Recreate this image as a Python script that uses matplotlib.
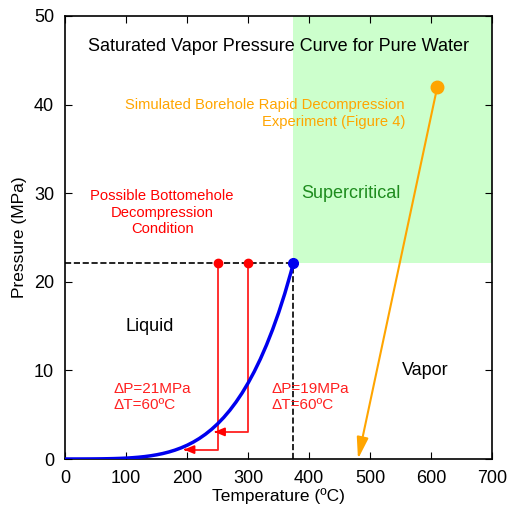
import matplotlib.pyplot as plt
from matplotlib.patches import Rectangle

plt.rcParams['font.family'] = ['Liberation Sans', 'DejaVu Sans']

# saturation curve of pure water (steam table values)
temps = [0, 10, 20, 30, 40, 50, 60, 70, 80, 90, 100, 110, 120, 130, 140, 150, 160, 170, 180, 190,
         200, 210, 220, 230, 240, 250, 260, 270, 280, 290, 300, 310, 320, 330, 340, 350, 360, 370, 373.95]
pressures = [0.000611, 0.001228, 0.002339, 0.004247, 0.007384, 0.012351, 0.019946, 0.031201, 0.047414,
             0.070182, 0.10142, 0.14338, 0.19867, 0.27028, 0.36153, 0.47616, 0.61823, 0.79219, 1.0028,
             1.2552, 1.5549, 1.9077, 2.3196, 2.7971, 3.3469, 3.9762, 4.6923, 5.5035, 6.4166, 7.441,
             8.5879, 9.8651, 11.284, 12.858, 14.601, 16.529, 18.666, 21.044, 22.064]

crit_t, crit_p = 373.95, 22.064

# decompression paths: start T, end T, end P
path_start_t = [250, 300]
path_end_t = [190, 240]
path_end_p = [1.06, 3.06]

# borehole experiment
exp_start = (610, 42)
exp_end = (480, 0)

fig = plt.figure(figsize=(5.09, 5.14), dpi=100)
ax = fig.add_axes([0.128, 0.107, 0.839, 0.862])

ax.add_patch(Rectangle((crit_t, crit_p), 700 - crit_t, 50 - crit_p, facecolor='#ccffcc', edgecolor='none', zorder=0))

ax.plot([0, crit_t], [crit_p, crit_p], 'k--', lw=1.2)
ax.plot([crit_t, crit_t], [0, crit_p], 'k--', lw=1.2)

ax.plot(temps, pressures, color='#0000ee', lw=2.5, zorder=3)
ax.plot(crit_t, crit_p, 'o', color='#0000ee', ms=7, zorder=4)

for t0, t1, p1 in zip(path_start_t, path_end_t, path_end_p):
    ax.plot([t0, t0, t1 + 8], [crit_p, p1, p1], color='#ff2020', lw=1.3, zorder=2)
    ax.annotate('', xy=(t1, p1), xytext=(t1 + 12, p1),
                arrowprops=dict(arrowstyle='-|>,head_length=0.6,head_width=0.25', color='#ff0000', lw=1.3), zorder=5)
    ax.plot(t0, crit_p, 'o', color='#ff0000', ms=6, zorder=4)

ax.annotate('', xy=exp_end, xytext=exp_start,
            arrowprops=dict(arrowstyle='-|>,head_length=1.3,head_width=0.35', color='orange', lw=1.5,
                            shrinkA=0, shrinkB=0))
ax.plot(*exp_start, 'o', color='orange', ms=9, zorder=4)

ax.text(349, 46.6, 'Saturated Vapor Pressure Curve for Pure Water', ha='center', va='center', fontsize=13)
ax.text(557, 39.0, 'Simulated Borehole Rapid Decompression\nExperiment (Figure 4)', ha='right', va='center',
        fontsize=10.6, color='orange', linespacing=1.2)
ax.text(159, 27.8, 'Possible Bottomehole\nDecompression\nCondition', ha='center', va='center',
        fontsize=10.6, color='red', linespacing=1.2)
ax.text(469, 30, 'Supercritical', ha='center', va='center', fontsize=13, color='#1e8c1e')
ax.text(139, 15, 'Liquid', ha='center', va='center', fontsize=13)
ax.text(590, 10, 'Vapor', ha='center', va='center', fontsize=13)
ax.text(79, 7, 'ΔP=21MPa\nΔT=60ºC', ha='left', va='center', fontsize=11, color='#ff2020', linespacing=1.1)
ax.text(339, 7, 'ΔP=19MPa\nΔT=60ºC', ha='left', va='center', fontsize=11, color='#ff2020', linespacing=1.1)

ax.set_xlim(0, 700)
ax.set_ylim(0, 50)
ax.set_xticks(range(0, 701, 100))
ax.set_yticks(range(0, 51, 10))
ax.tick_params(direction='in', top=True, right=True, labelsize=13, length=5, pad=8)
for s in ax.spines.values():
    s.set_linewidth(1.2)
ax.set_xlabel('Temperature (ºC)', fontsize=12.5, labelpad=1)
ax.set_ylabel('Pressure (MPa)', fontsize=12.5, labelpad=5)

plt.savefig('out.png')
